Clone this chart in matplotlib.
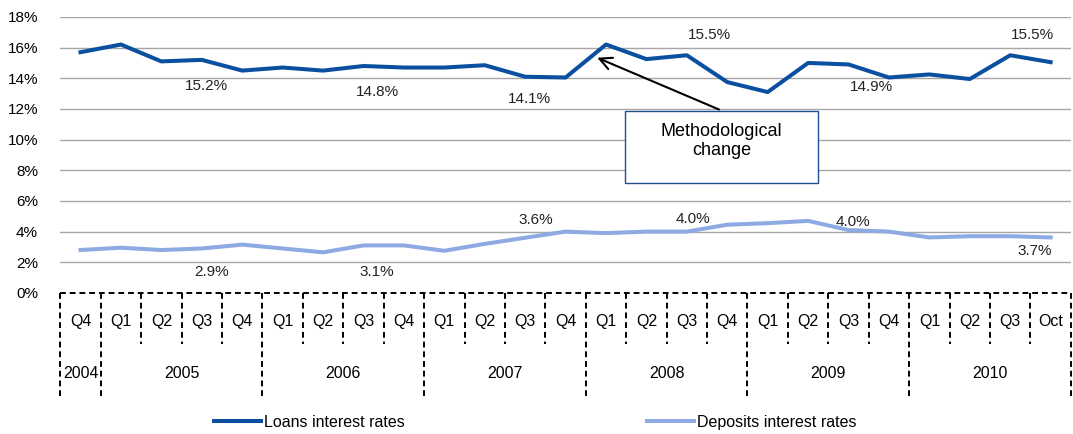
import matplotlib
matplotlib.use("Agg")
import matplotlib.pyplot as plt
from matplotlib.patches import Rectangle

plt.rcParams['font.family'] = ['Liberation Sans', 'DejaVu Sans']

quarters = ["Q4", "Q1", "Q2", "Q3", "Q4", "Q1", "Q2", "Q3", "Q4", "Q1", "Q2", "Q3", "Q4",
            "Q1", "Q2", "Q3", "Q4", "Q1", "Q2", "Q3", "Q4", "Q1", "Q2", "Q3", "Oct"]
years = ["2004", "2005", "2006", "2007", "2008", "2009", "2010"]
year_counts = [1, 4, 4, 4, 4, 4, 4]

loans = [15.7, 16.2, 15.1, 15.2, 14.5, 14.7, 14.5, 14.8, 14.7, 14.7, 14.85, 14.1, 14.05,
         16.2, 15.25, 15.5, 13.75, 13.1, 15.0, 14.9, 14.05, 14.25, 13.95, 15.5, 15.05]
deposits = [2.8, 2.95, 2.8, 2.9, 3.15, 2.9, 2.65, 3.1, 3.1, 2.75, 3.2, 3.6, 4.0,
            3.9, 4.0, 4.0, 4.45, 4.55, 4.7, 4.1, 4.0, 3.62, 3.7, 3.7, 3.62]

# labelled points (index, text)
loan_idx = [3, 7, 11, 15, 19, 23]
loan_txt = ["15.2%", "14.8%", "14.1%", "15.5%", "14.9%", "15.5%"]
dep_idx = [3, 7, 11, 15, 19, 23]
dep_txt = ["2.9%", "3.1%", "3.6%", "4.0%", "4.0%", "3.7%"]

loan_color = "#0B50A0"
dep_color = "#8DAAE3"

fig = plt.figure(figsize=(10.73, 4.34), dpi=100)
ax = fig.add_axes([0.0562, 0.325, 0.9418, 0.636])

x = list(range(len(quarters)))
ax.plot(x, loans, color=loan_color, lw=2.9, label="Loans interest rates")
ax.plot(x, deposits, color=dep_color, lw=2.9, label="Deposits interest rates")

ax.set_xlim(-0.5, len(quarters) - 0.5)
ax.set_ylim(0, 18)
ax.set_yticks(range(0, 19, 2))
ax.set_yticklabels([f"{v}%" for v in range(0, 19, 2)], fontsize=11)
ax.tick_params(axis="y", length=0, pad=16)
ax.set_xticks([])
for v in range(2, 19, 2):
    ax.axhline(v, color="#A6A6A6", lw=1, zorder=0)
for s in ax.spines.values():
    s.set_visible(False)

# data labels
loan_dx = [0.12, 0.34, 0.1, 0.56, 0.57, 0.55]
loan_y = [13.5, 13.1, 12.65, 16.8, 13.4, 16.8]
for i, t, dx, yy in zip(loan_idx, loan_txt, loan_dx, loan_y):
    ax.text(i + dx, yy, t, ha="center", va="center", fontsize=11, color="#222222")
dep_dx = [0.25, 0.32, 0.27, 0.15, 0.1, 0.6]
dep_y = [1.39, 1.39, 4.75, 4.8, 4.62, 2.73]
for i, t, dx, yy in zip(dep_idx, dep_txt, dep_dx, dep_y):
    ax.text(i + dx, yy, t, ha="center", va="center", fontsize=11, color="#222222")

# annotation box
ax.add_patch(Rectangle((13.48, 7.16), 4.76, 4.73, facecolor="white",
                       edgecolor="#1F4E8C", lw=1, zorder=5))
ax.text(15.86, 9.9, "Methodological\nchange", ha="center", va="center",
        fontsize=13, zorder=6, linespacing=1.1)
ax.annotate("", xy=(12.72, 15.41), xytext=(15.86, 11.89),
            arrowprops=dict(arrowstyle="->", color="black", lw=1.5,
                            mutation_scale=22), zorder=6)

# category table below the axis
tr = ax.get_xaxis_transform()
dash = (0, (3, 2))
ax.plot([-0.5, len(quarters) - 0.5], [0, 0], transform=tr, color="black",
        lw=1.4, ls=dash, clip_on=False)
year_bounds = [-0.5]
for c in year_counts:
    year_bounds.append(year_bounds[-1] + c)
for b in range(len(quarters) + 1):
    xb = b - 0.5
    bottom = -0.377 if xb in year_bounds else -0.184
    ax.plot([xb, xb], [0, bottom], transform=tr, color="black", lw=1.4,
            ls=dash, clip_on=False)
for i, q in enumerate(quarters):
    ax.text(i, -0.103, q, transform=tr, ha="center", va="center", fontsize=11.5)
for k, yname in enumerate(years):
    mid = (year_bounds[k] + year_bounds[k + 1]) / 2
    ax.text(mid, -0.292, yname, transform=tr, ha="center", va="center", fontsize=11.5)

fig.legend(loc="center", bbox_to_anchor=(0.499, 0.027), ncol=2, frameon=False,
           fontsize=11.5, handlelength=2.9, handletextpad=0.2, columnspacing=15.2)

fig.savefig("out.png", dpi=100)
